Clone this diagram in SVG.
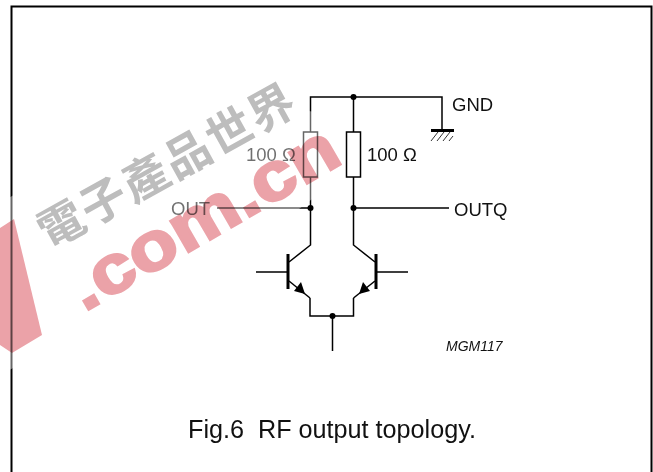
<svg xmlns="http://www.w3.org/2000/svg" width="653" height="472" viewBox="0 0 653 472">
<style>
.w{fill:none;stroke:#000;stroke-width:1.5}
.t{font-family:"Liberation Sans",Arial,sans-serif;fill:#111}
.l{font-size:18.5px}
.d{fill:#000}
.p{fill:#eba2a8;mix-blend-mode:multiply}
</style>
<rect width="653" height="472" fill="#fff"/>
<rect id="frame" x="11.500" y="6.500" width="640" height="480" fill="none" stroke="#000" stroke-width="2"/>
<g id="connectors" class="w">
<path d="M310.500 132V97H442V130"/>
<path d="M353.500 97V132M310.500 177V245L289 262M353.500 177V245L375 262"/>
<path d="M217 208H310.500M353.500 208H449"/>
<path d="M256 272H288M377 272H408"/>
<path d="M310 298V316H353.500V298M332.500 316V351"/>
<path d="M289 281L310 298"/>
<path d="M375 281L353.500 298"/>
</g>
<g id="resistor-left"><rect x="303.500" y="132" width="14" height="45" fill="none" stroke="#000" stroke-width="1.500"/><text class="t l" x="246" y="161">100 Ω</text></g>
<g id="resistor-right"><rect x="346.500" y="132" width="14" height="45" fill="none" stroke="#000" stroke-width="1.500"/><text class="t l" x="367" y="161">100 Ω</text></g>
<g id="ground"><rect x="431" y="129" width="23" height="3" class="d"/><path d="M431 141L438 132M437 141L444 132M443 141L450 132M449 141L453 136" fill="none" stroke="#000" stroke-width=".8"/><text class="t l" x="452" y="111">GND</text></g>
<g id="out"><circle cx="310.500" cy="208" r="3" class="d"/><text class="t l" x="171" y="215">OUT</text></g>
<g id="outq"><circle cx="353.500" cy="208" r="3" class="d"/><text class="t l" x="454" y="216">OUTQ</text></g>
<g id="top-node"><circle cx="353.500" cy="97" r="3" class="d"/></g>
<g id="q-left"><rect x="286.500" y="254" width="3" height="35" class="d"/><path d="M305 294L294 291L301 282Z" class="d"/></g>
<g id="q-right"><rect x="374.500" y="254" width="3" height="35" class="d"/><path d="M359 294L370 291L363 282Z" class="d"/></g>
<g id="tail"><circle cx="332.500" cy="316" r="3" class="d"/></g>
<text id="code" class="t" x="446" y="351" font-size="14" font-style="italic">MGM117</text>
<text id="caption" class="t" x="188" y="438" font-size="25.2" xml:space="preserve">Fig.6  RF output topology.</text>
<g id="watermark">
<polygon points="-5,206 190,93 335,115 340,178 295,212 -5,378" fill="#fff" opacity=".4"/>
<polygon class="p" points="0,228 14,219 42,335 12,353 0,345"/>
<text class="p" transform="translate(207 224) rotate(-30) scale(1.17 1)" y="15" text-anchor="middle" font-family="'Liberation Sans',Arial,sans-serif" font-weight="700" font-size="68" stroke="#eba2a8" stroke-width="2.500">.com.cn</text>
<text transform="translate(168 167) rotate(-29)" y="15" text-anchor="middle" font-family="'Noto Sans CJK TC',sans-serif" font-weight="700" font-size="46" letter-spacing="2" fill="#bdbdbd" style="mix-blend-mode:multiply">電子產品世界</text>
</g>
</svg>
